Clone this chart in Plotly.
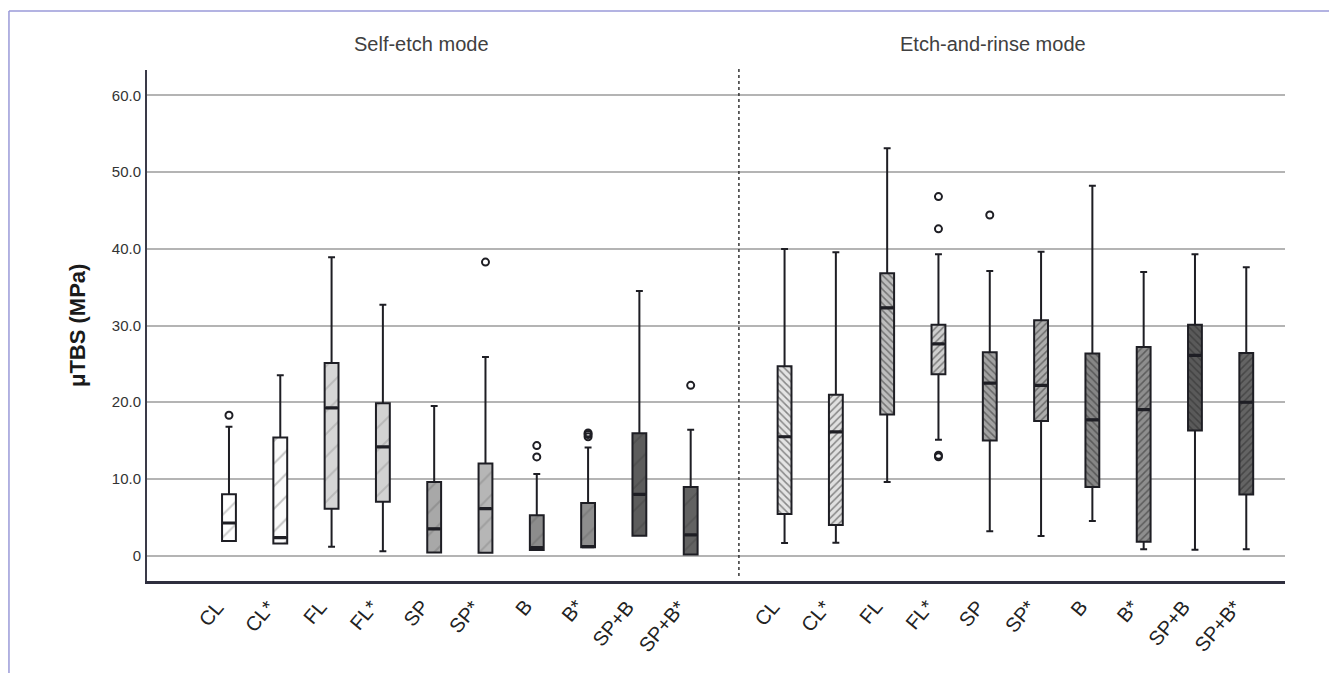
import plotly.graph_objects as go

# ---------------- data ----------------
groups = ["CL", "CL*", "FL", "FL*", "SP", "SP*", "B", "B*", "SP+B", "SP+B*"]

# Self-etch mode
se_low = [1.9, 1.6, 1.17, 0.57, 0.43, 0.39, 0.74, 1.1, 2.6, 0.17]
se_q1 = [1.9, 1.6, 6.13, 7.04, 0.43, 0.39, 0.74, 1.1, 2.6, 0.17]
se_med = [4.26, 2.35, 19.26, 14.17, 3.5, 6.13, 1.04, 1.17, 8.0, 2.7]
se_q3 = [8.0, 15.4, 25.1, 19.87, 9.6, 12.0, 5.26, 6.87, 15.96, 8.96]
se_high = [16.8, 23.5, 38.9, 32.7, 19.5, 25.9, 10.65, 14.09, 34.5, 16.4]
se_outliers = [[18.3], [], [], [], [], [38.26], [14.35, 12.87], [15.5, 15.8, 16.0], [], [22.2]]

# Etch-and-rinse mode
er_low = [1.65, 1.7, 9.6, 15.1, 3.2, 2.57, 4.52, 0.83, 0.78, 0.83]
er_q1 = [5.43, 4.0, 18.4, 23.65, 15.0, 17.56, 8.96, 1.83, 16.3, 7.96]
er_med = [15.5, 16.13, 32.3, 27.6, 22.5, 22.2, 17.7, 19.04, 26.1, 20.0]
er_q3 = [24.7, 20.96, 36.8, 30.1, 26.5, 30.7, 26.35, 27.2, 30.1, 26.4]
er_high = [39.96, 39.56, 53.1, 39.3, 37.1, 39.6, 48.2, 36.96, 39.3, 37.6]
er_outliers = [[], [], [], [46.8, 42.6, 12.9, 13.1], [44.4], [], [], [], [], []]

y_tickvals = [0, 10, 20, 30, 40, 50, 60]
y_ticktext = ["0", "10.0", "20.0", "30.0", "40.0", "50.0", "60.0"]

# ---------------- styles ----------------
se_fill = ["#ffffff", "#fbfbfb", "#d6d6d6", "#d2d2d2", "#a8a8a8",
           "#b6b6b6", "#8c8c8c", "#8e8e8e", "#5c5c5c", "#626262"]
er_fill = ["#e4e4e4", "#e0e0e0", "#bdbdbd", "#cfcfcf", "#a2a2a2",
           "#acacac", "#868686", "#8e8e8e", "#5a5a5a", "#646464"]
er_shape = ["\\", "/", "\\", "/", "\\", "/", "\\", "/", "\\", "/"]

se_pos = [i * 1.0 for i in range(10)]
er_pos = [10.83 + i * 1.0 for i in range(10)]
BOXW = 0.27
LINE = "#1e1e24"

fig = go.Figure()

def add_group(pos, low, q1, med, q3, high, outl, fills, shapes, fgc, size, solidity):
    for i in range(len(pos)):
        fig.add_trace(go.Bar(
            x=[pos[i]], y=[q3[i] - q1[i]], base=[q1[i]], width=BOXW,
            marker=dict(color=fills[i], line=dict(width=0),
                        pattern=dict(shape=shapes[i], fgcolor=fgc[i], size=size,
                                     solidity=solidity, bgcolor=fills[i])),
            showlegend=False, hoverinfo="skip"))
    for i in range(len(pos)):
        fig.add_trace(go.Box(
            x=[pos[i]], q1=[q1[i]], median=[med[i]], q3=[q3[i]],
            lowerfence=[low[i]], upperfence=[high[i]],
            width=BOXW, whiskerwidth=0.5,
            fillcolor="rgba(0,0,0,0)", line=dict(color=LINE, width=2),
            showlegend=False))
        # thicker median stroke
        fig.add_trace(go.Box(
            x=[pos[i]], q1=[med[i]], median=[med[i]], q3=[med[i]],
            lowerfence=[med[i]], upperfence=[med[i]],
            width=BOXW - 0.03, whiskerwidth=0,
            fillcolor="rgba(0,0,0,0)", line=dict(color=LINE, width=3.2),
            showlegend=False, hoverinfo="skip"))
    ox, oy = [], []
    for i in range(len(pos)):
        for v in outl[i]:
            ox.append(pos[i])
            oy.append(v)
    fig.add_trace(go.Scatter(
        x=ox, y=oy, mode="markers",
        marker=dict(symbol="circle-open", size=7, color=LINE, line=dict(width=2)),
        showlegend=False))

se_fg = ["#9a9a9a", "#8a8a8a", "#a0a0a0", "#9c9c9c", "#7a7a7a",
         "#888888", "#6a6a6a", "#6e6e6e", "#454545", "#4a4a4a"]
add_group(se_pos, se_low, se_q1, se_med, se_q3, se_high, se_outliers,
          se_fill, ["/"] * 10, se_fg, 16, 0.12)
add_group(er_pos, er_low, er_q1, er_med, er_q3, er_high, er_outliers,
          er_fill, er_shape, ["#2a2a2a"] * 10, 5, 0.3)

x0, x1 = -1.598, 20.585

# rotated category labels (placed under each box)
label_annotations = []
for p, lab in zip(se_pos + er_pos, groups + groups):
    label_annotations.append(dict(
        text=lab, x=p, xref="x", y=0, yref="paper", showarrow=False,
        xanchor="right", yanchor="top", textangle=-50, xshift=2, yshift=-12,
        font=dict(size=20, color="#222222")))

fig.update_layout(
    width=1329, height=673,
    margin=dict(l=147, r=44, t=70, b=92),
    paper_bgcolor="white", plot_bgcolor="white",
    barmode="overlay", boxmode="overlay",
    font=dict(family="Arial, Liberation Sans, sans-serif", color="#333333"),
    xaxis=dict(range=[x0, x1], showticklabels=False,
               ticks="", showgrid=False, zeroline=False,
               showline=True, linecolor="#2e2e3e", linewidth=2.5),
    yaxis=dict(range=[-3.3, 63.3], tickmode="array",
               tickvals=y_tickvals, ticktext=y_ticktext,
               tickfont=dict(size=15, color="#333333"),
               ticks="", showgrid=True, gridcolor="#b4b4b4", gridwidth=1.5,
               zeroline=False, showline=True, linecolor="#3a3a48", linewidth=2,
               ticklabelstandoff=1),
    shapes=[
        # dotted separator
        dict(type="line", xref="x", yref="paper", x0=9.94, x1=9.94, y0=0.01, y1=1.004,
             line=dict(color="#333333", width=1.5, dash="dot")),
        # image frame
        dict(type="line", xref="paper", yref="paper", x0=-0.1213, x1=-0.1213,
             y0=-0.2, y1=1.1155, line=dict(color="#9a9ad8", width=1.5)),
        dict(type="line", xref="paper", yref="paper", x0=-0.1213, x1=1.05,
             y0=1.1155, y1=1.1155, line=dict(color="#9a9ad8", width=1.5)),
    ],
    annotations=[
        dict(text="Self-etch mode", xref="paper", yref="paper", x=0.241, y=1.051,
             showarrow=False, xanchor="center", yanchor="middle",
             font=dict(size=20, color="#404040")),
        dict(text="Etch-and-rinse mode", xref="paper", yref="paper", x=0.743, y=1.051,
             showarrow=False, xanchor="center", yanchor="middle",
             font=dict(size=20, color="#404040")),
        dict(text="<b>μTBS (MPa)</b>", xref="paper", yref="paper", x=-0.061, y=0.5,
             showarrow=False, xanchor="center", yanchor="middle", textangle=-90,
             font=dict(size=22, color="#1a1a1a")),
    ] + label_annotations,
)

fig.write_html("out.html", config={"displayModeBar": False},
               post_script="document.body.style.margin='0';")
